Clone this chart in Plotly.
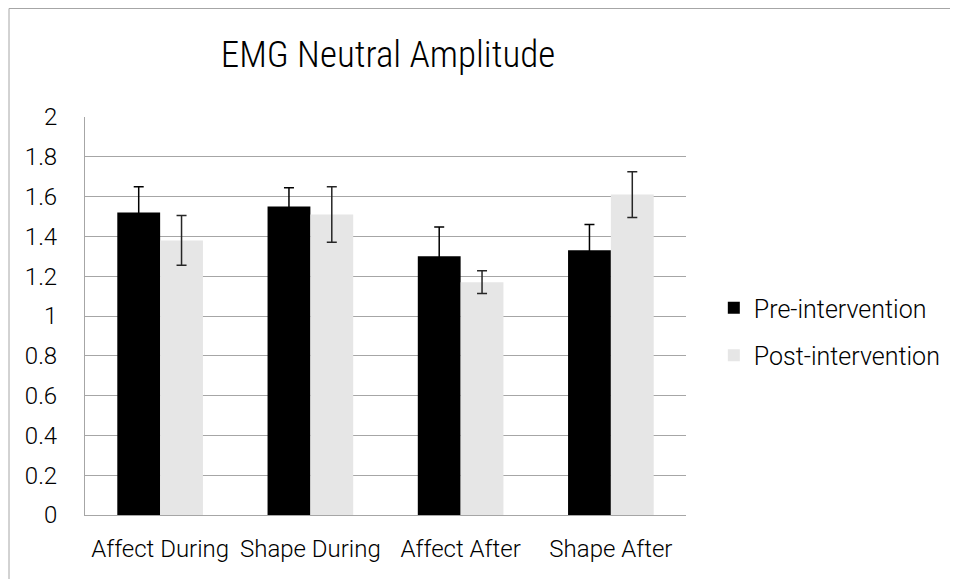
import plotly.graph_objects as go

categories = ["Affect During", "Shape During", "Affect After", "Shape After"]
pre_values = [1.52, 1.55, 1.30, 1.33]
pre_errors = [0.13, 0.095, 0.147, 0.13]
post_values = [1.38, 1.51, 1.17, 1.61]
post_errors = [0.125, 0.14, 0.057, 0.115]
y_ticks = [0, 0.2, 0.4, 0.6, 0.8, 1, 1.2, 1.4, 1.6, 1.8, 2]
y_tick_labels = ["0", "0.2", "0.4", "0.6", "0.8", "1", "1.2", "1.4", "1.6", "1.8", "2"]

FONT = "Roboto"
TITLE_FONT = "Liberation Sans Narrow, Roboto Condensed, DejaVu Sans Condensed, Roboto"

W, H = 950, 571
L, R, T, B = 77, 268, 109, 64
PW, PH = W - L - R, H - T - B

fig = go.Figure()
fig.add_trace(go.Bar(
    name="Pre-intervention", x=categories, y=pre_values, legendgroup="pre",
    marker=dict(color="#000000", line=dict(width=0)),
    error_y=dict(type="data", array=pre_errors, color="#000000", thickness=1.5, width=5),
))
fig.add_trace(go.Bar(
    name="Post-intervention", x=categories, y=post_values, legendgroup="post",
    marker=dict(color="#E6E6E6", line=dict(width=0)),
    error_y=dict(type="data", array=post_errors, color="#262626", thickness=1.5, width=5),
))

fig.update_layout(
    width=W, height=H,
    paper_bgcolor="white", plot_bgcolor="white",
    margin=dict(l=L, r=R, t=T, b=B, pad=0),
    barmode="group", bargap=0.43, bargroupgap=0,
    title=dict(text="EMG Neutral Amplitude", x=380 / W, xanchor="center",
               y=1 - 46 / H, yanchor="middle",
               font=dict(family=TITLE_FONT, size=37, color="#000000", weight=300)),
    font=dict(family=FONT, color="#000000", weight=300),
    legend=dict(x=(710 - L) / PW, xanchor="left", y=1 - (323.5 - T) / PH, yanchor="middle",
                font=dict(family=FONT, size=25, color="#000000", weight=300),
                tracegroupgap=12, itemwidth=30, bgcolor="rgba(0,0,0,0)"),
    showlegend=True,
)
fig.update_yaxes(range=[0, 2], tickvals=y_ticks, ticktext=y_tick_labels,
                 showgrid=True, gridcolor="#A6A6A6", gridwidth=1,
                 showline=True, linecolor="#A6A6A6", linewidth=1,
                 ticks="", tickfont=dict(size=24, family=FONT, weight=300),
                 zeroline=False, ticklabelstandoff=22)
fig.update_xaxes(showline=True, linecolor="#A6A6A6", linewidth=1,
                 ticks="", tickfont=dict(size=24, family=FONT, weight=300),
                 ticklabelstandoff=12)

fig.add_shape(type="rect", xref="paper", yref="paper",
              x0=(-L + 0.5) / PW, x1=1.5, y0=-0.5, y1=1 + (T - 0.5) / PH,
              line=dict(color="#A6A6A6", width=1), fillcolor="rgba(0,0,0,0)", layer="below")

fig.write_html("out.html")
